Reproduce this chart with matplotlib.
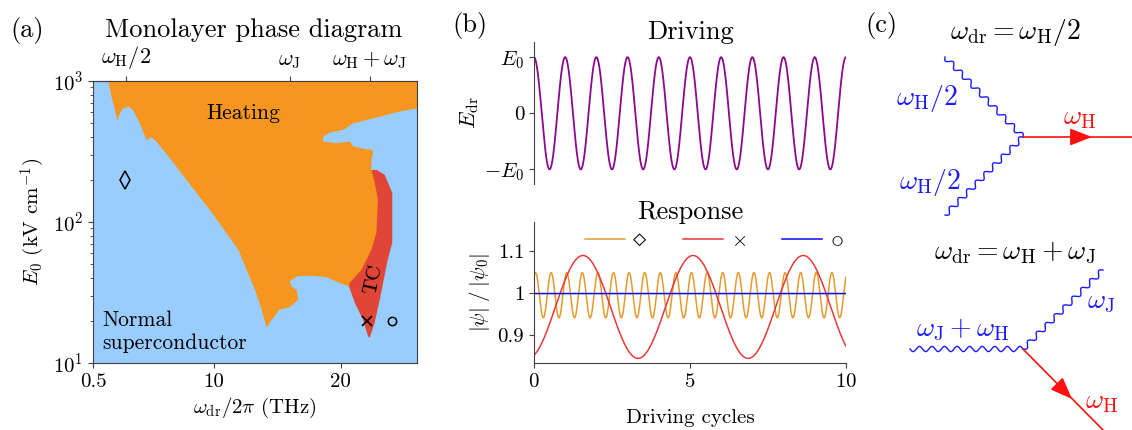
import numpy as np
import matplotlib
matplotlib.use("Agg")
import matplotlib.pyplot as plt

plt.rcParams['font.family'] = 'serif'
plt.rcParams['font.serif'] = ['cmr10', 'DejaVu Serif']
plt.rcParams['mathtext.fontset'] = 'cm'
plt.rcParams['axes.unicode_minus'] = False
plt.rcParams['axes.formatter.use_mathtext'] = True
plt.rcParams['font.size'] = 15

# ---- panel (a): phase diagram, boundaries (THz, kV/cm)
heat_f = [1.7, 26.03, 26.03, 24.66, 23.6, 22.05, 21.0, 20.2, 19.16, 18.63, 18.63, 19.68,
          20.73, 21.0, 22.05, 22.51, 22.56, 22.43, 22.43, 23.3, 23.3, 22.6, 20.67,
          19.94, 18.9, 17.58, 16.54, 16.0, 16.14, 16.54, 16.67,
          16.0, 15.17, 14.7, 14.17, 13.79, 13.26, 12.6, 11.95, 9.88, 7.86, 6.55, 5.5,
          5.1, 4.71, 4.19, 3.67, 3.35, 2.88, 2.62, 2.41, 2.23, 1.96]
heat_E = [1000, 1000, 641, 607, 574, 529, 501, 450, 431, 403, 372, 362,
          372, 343, 328, 324, 307, 275, 234, 150, 80, 30, 34.9,
          36.9, 40.7, 41.6, 41.1, 37.9, 34.9, 33.1, 28.1,
          24.9, 23.9, 20.8, 18.0, 23.9, 33.1, 45.8, 63.5, 116, 199, 284, 371,
          399, 382, 501, 617, 658, 641, 590, 523, 624, 774]
tc_f = [22.43, 22.85, 23.48, 24.08, 24.08, 23.72, 23.09, 22.69, 22.3, 22.17, 21.77, 21.12,
        20.67, 20.73, 21.65, 22.43, 22.83, 22.95, 22.7]
tc_E = [234, 234, 216, 161, 71.3, 54, 28.1, 19.3, 15.1, 15.5, 20.3, 26.8,
        34.9, 37.1, 45.8, 63.5, 84, 144, 190]
point_f = [3.0, 22.05, 24.04]
point_E = [200, 20, 20]
res_ticks = [3.1, 16.0, 22.3]
res_labels = [r'$\omega_{\rm H}/2$', r'$\omega_{\rm J}$', r'$\omega_{\rm H}+\omega_{\rm J}$']

# ---- panel (b): sinusoid parameters
cycles = [0, 10]
drive_amp = 1.0
resp_names = [r'$\diamond$', r'$\times$', r'$\circ$']
resp_offset = [0.995, 0.967, 0.999]
resp_amp = [0.054, 0.123, 0.0]
resp_period = [0.5, 3.53, 1.0]
resp_peak = [0.05, 1.57, 0.0]
resp_colors = ['#e69a2e', '#e8393a', '#0a0aee']

col_normal = '#99ccff'
col_heat = '#f7961e'
col_tc = '#e04535'
spine_col = '#404040'

fig = plt.figure(figsize=(11.32, 4.3), dpi=100)

ax = fig.add_axes([0.0822, 0.1558, 0.2862, 0.6558])
ax.set_facecolor(col_normal)
ax.fill(heat_f, heat_E, color=col_heat, lw=0)
ax.fill(tc_f, tc_E, color=col_tc, lw=0)
ax.set_yscale('log')
ax.set_ylim(10, 1000)
ax.set_xlim(0.5, 26.03)
ax.set_xticks([0.5, 10, 20], ['0.5', '10', '20'])
ax.plot(point_f[0], point_E[0], marker='d', ms=9, mfc='none', mec='k', mew=1.1)
ax.plot(point_f[1], point_E[1], marker='x', ms=7, mec='k', mew=1.2)
ax.plot(point_f[2], point_E[2], marker='o', ms=6, mfc='none', mec='k', mew=1.1)
ax.text(12.3, 590, 'Heating', ha='center', va='center', fontsize=15.5)
ax.text(1.23, 16.7, 'Normal\nsuperconductor', ha='left', va='center', linespacing=1.2,
        fontsize=15.5)
ax.text(22.6, 39, 'TC', ha='center', va='center', rotation=78)
ax.set_xlabel(r'$\omega_{\rm dr}/2\pi$ (THz)')
ax.set_ylabel(r'$E_0$ (kV cm$^{-1}$)')
for s in ax.spines.values():
    s.set_color(spine_col)
ax.tick_params(colors=spine_col, labelcolor='k', which='both')
top = ax.secondary_xaxis('top')
top.set_xticks(res_ticks, res_labels)
top.tick_params(colors=spine_col, labelcolor='k', labelsize=16)
top.spines['top'].set_color(spine_col)
fig.text(0.2245, 0.93, 'Monolayer phase diagram', ha='center', va='center', fontsize=19)

# ---- panel (b)
t = np.linspace(cycles[0], cycles[1], 3001)
bx1 = fig.add_axes([0.4717, 0.5721, 0.2756, 0.3302])
bx1.plot(t, drive_amp * np.cos(2 * np.pi * t), color='#8b0a8b', lw=1.3)
bx1.set_xlim(0, 10)
bx1.set_ylim(-1.26, 1.27)
bx1.set_yticks([-1, 0, 1], [r'$-E_0$', '0', r'$E_0$'])
bx1.set_xticks([])
for k in ['top', 'right', 'bottom']:
    bx1.spines[k].set_visible(False)
bx1.spines['left'].set_color(spine_col)
bx1.tick_params(colors=spine_col, labelcolor='k')
bx1.set_ylabel(r'$E_{\rm dr}$', labelpad=2, fontsize=16)
fig.text(0.6095, 0.925, 'Driving', ha='center', va='center', fontsize=19)

bx2 = fig.add_axes([0.4717, 0.1558, 0.2756, 0.3279])
for i in range(3):
    y = resp_offset[i] + resp_amp[i] * np.cos(2 * np.pi * (t - resp_peak[i]) / resp_period[i])
    bx2.plot(t, y, color=resp_colors[i], lw=1.1, label=resp_names[i])
bx2.set_xlim(0, 10)
bx2.set_ylim(0.833, 1.17)
bx2.set_xticks([0, 5, 10])
bx2.set_yticks([0.9, 1.0, 1.1], ['0.9', '1', '1.1'])
for k in ['top', 'right']:
    bx2.spines[k].set_visible(False)
for k in ['left', 'bottom']:
    bx2.spines[k].set_color(spine_col)
bx2.tick_params(colors=spine_col, labelcolor='k')
bx2.set_xlabel('Driving cycles', labelpad=13)
bx2.set_ylabel(r'$|\psi|\;/\;|\psi_0|$')
leg = bx2.legend(loc='center left', bbox_to_anchor=(0.163, 0.879), ncol=3, frameon=False,
                 borderpad=0, borderaxespad=0, handlelength=1.92, handletextpad=0.35,
                 columnspacing=1.75, fontsize=15)
for txt, size in zip(leg.get_texts(), [19, 15, 19]):
    txt.set_fontsize(size)
fig.text(0.6095, 0.507, 'Response', ha='center', va='center', fontsize=19)

# ---- panel (c): diagrams in pixel units of the panel
cx = fig.add_axes([860 / 1132, 0, 272 / 1132, 1])
cx.set_xlim(0, 272)
cx.set_ylim(430, 0)
cx.axis('off')
blue = '#1a1aff'
red = '#ff1010'


def wavy(p0, p1, n, amp=2.6):
    p0 = np.array(p0, float)
    p1 = np.array(p1, float)
    d = p1 - p0
    u = d / np.hypot(*d)
    nrm = np.array([-u[1], u[0]])
    s = np.linspace(0, 1, 600)
    off = amp * np.sin(2 * np.pi * n * s)
    pts = p0 + np.outer(s, d) + np.outer(off, nrm)
    cx.plot(pts[:, 0], pts[:, 1], color=blue, lw=1.0)


def fermion(p0, p1, tip):
    cx.plot([p0[0], p1[0]], [p0[1], p1[1]], color=red, lw=1.2)
    d = np.array(p1, float) - np.array(p0, float)
    d = d / np.hypot(*d)
    base = np.array(tip) - 16 * d
    cx.annotate('', xy=tip, xytext=base,
                arrowprops=dict(arrowstyle='-|>,head_length=0.9,head_width=0.35',
                                color=red, lw=1.2, shrinkA=0, shrinkB=0))


fs_c = 20
v1 = (163, 137)
wavy((85, 57), v1, 9)
wavy(v1, (85, 215), 9)
fermion(v1, (272, 137), (232, 137))
cx.text(155, 33, r'$\omega_{\rm dr} = \omega_{\rm H}/2$', ha='center', va='center', fontsize=fs_c)
cx.text(67, 98, r'$\omega_{\rm H}/2$', color=blue, ha='center', va='center', fontsize=fs_c)
cx.text(70, 183, r'$\omega_{\rm H}/2$', color=blue, ha='center', va='center', fontsize=fs_c)
cx.text(220, 118, r'$\omega_{\rm H}$', color=red, ha='center', va='center', fontsize=fs_c)

v2 = (163, 349)
wavy((50, 349), v2, 9)
wavy(v2, (243, 270), 9)
fermion(v2, (243, 430), (212, 399))
cx.text(155, 253, r'$\omega_{\rm dr} = \omega_{\rm H}+\omega_{\rm J}$', ha='center', va='center',
        fontsize=fs_c)
cx.text(103, 330, r'$\omega_{\rm J}+\omega_{\rm H}$', color=blue, ha='center', va='center',
        fontsize=fs_c)
cx.text(241, 302, r'$\omega_{\rm J}$', color=blue, ha='center', va='center', fontsize=fs_c)
cx.text(242, 402, r'$\omega_{\rm H}$', color=red, ha='center', va='center', fontsize=fs_c)

fig.text(0.024, 0.93, '(a)', ha='center', va='center', fontsize=19)
fig.text(0.415, 0.94, '(b)', ha='center', va='center', fontsize=19)
fig.text(0.779, 0.94, '(c)', ha='center', va='center', fontsize=19)

fig.savefig('out.png', dpi=100)
